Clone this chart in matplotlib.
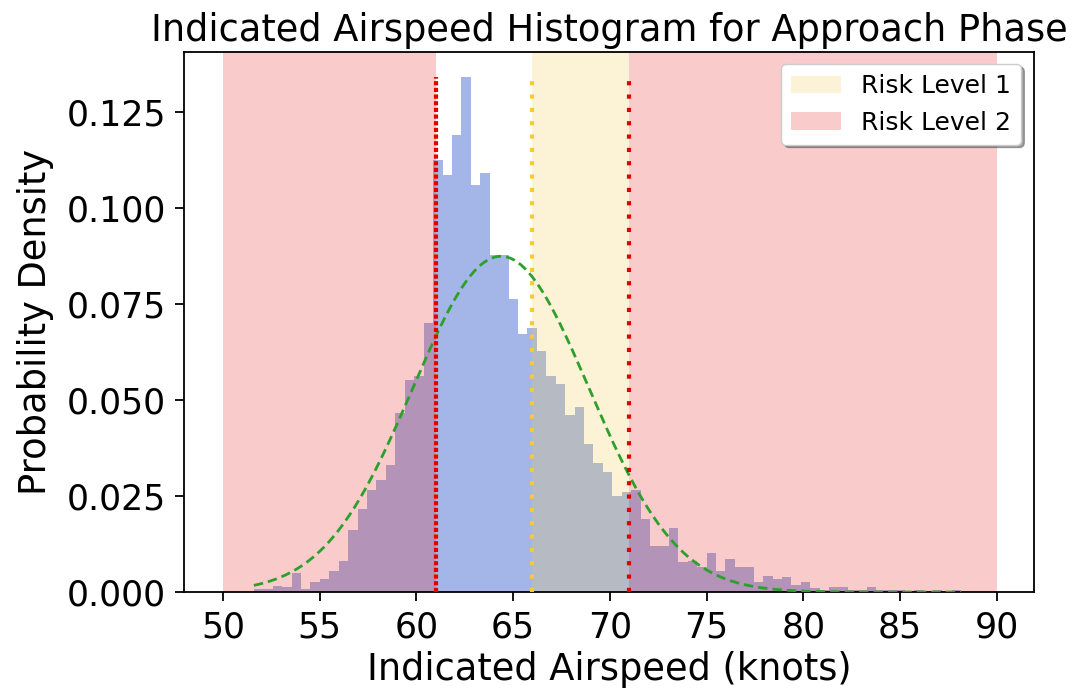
import numpy as np
import matplotlib
matplotlib.use("Agg")
import matplotlib.pyplot as plt

# ---- data ----
bin_start = 51.60
bin_width = 0.4876
densities = [
    0.0007, 0.0007, 0.0017, 0.0012, 0.0049, 0.0007, 0.0027, 0.0034, 0.0056, 0.0082,
    0.0162, 0.0217, 0.0265, 0.0292, 0.0331, 0.0466, 0.0552, 0.0564, 0.0700, 0.1127,
    0.1088, 0.1191, 0.1341, 0.1060, 0.1093, 0.0878, 0.0878, 0.0763, 0.0673, 0.0687,
    0.0628, 0.0564, 0.0541, 0.0462, 0.0482, 0.0385, 0.0336, 0.0314, 0.0250, 0.0260,
    0.0265, 0.0189, 0.0121, 0.0121, 0.0168, 0.0077, 0.0082, 0.0065, 0.0103, 0.0055,
    0.0087, 0.0066, 0.0066, 0.0027, 0.0043, 0.0034, 0.0039, 0.0018, 0.0027, 0.0011,
    0.0006, 0.0012, 0.0012, 0.0006, 0.0004, 0.0012, 0.0006, 0.0004, 0.0004, 0.0002,
    0.0004, 0.0002, 0.0004, 0.0002, 0.0004,
]
fit_mean = 64.37
fit_std = 4.56

risk1_span = (66, 71)
risk2_spans = [(50, 61), (71, 90)]
yellow_lines = [61, 66]
red_lines = [61, 71]

title = "Indicated Airspeed Histogram for Approach Phase"
xlabel = "Indicated Airspeed (knots)"
ylabel = "Probability Density"
xticks = [50, 55, 60, 65, 70, 75, 80, 85, 90]
yticks = [0.000, 0.025, 0.050, 0.075, 0.100, 0.125]

# ---- figure ----
fig = plt.figure(figsize=(10.8, 6.93), dpi=100)
ax = fig.add_axes([0.1706, 0.1457, 0.9574 - 0.1706, 0.9254 - 0.1457])

n = len(densities)
edges = bin_start + bin_width * np.arange(n + 1)
ax.bar(edges[:-1], densities, width=bin_width, align="edge",
       color="#4b6fd0", alpha=0.5, linewidth=0, zorder=1)

ax.axvspan(*risk1_span, color="#f2cc46", alpha=0.22, lw=0, label="Risk Level 1", zorder=2)
for i, (a, b) in enumerate(risk2_spans):
    ax.axvspan(a, b, color="#ea2020", alpha=0.23, lw=0,
               label="Risk Level 2" if i == 0 else None, zorder=2)

xs = np.linspace(edges[0], edges[-1], 400)
pdf = np.exp(-0.5 * ((xs - fit_mean) / fit_std) ** 2) / (fit_std * np.sqrt(2 * np.pi))
ax.plot(xs, pdf, color="#2ca02c", ls=(0, (3.4, 1.8)), lw=2.0, zorder=4)

ymax = max(densities)
ax.vlines(yellow_lines, 0, ymax, colors="#f5cc30", linestyles=[(0, (1, 2.2))], lw=3, zorder=5)
ax.vlines(red_lines, 0, ymax, colors="#e00000", linestyles=[(0, (1, 2.2))], lw=3, zorder=6)
ax.vlines([red_lines[0]], 0, ymax, colors="#e00000", linestyles=[(1.6, (1, 2.2))], lw=3, zorder=6)

ax.set_xlim(48, 91.93)
ax.set_ylim(0, 0.1408)
ax.set_xticks(xticks)
ax.set_yticks(yticks)
ax.set_yticklabels([f"{v:.3f}" for v in yticks])

ax.tick_params(labelsize=25, length=6.5, width=1.3, pad=6.5)
for s in ax.spines.values():
    s.set_linewidth(1.3)
ax.set_title(title, fontsize=26.5, pad=8)
ax.set_xlabel(xlabel, fontsize=26.5, labelpad=5)
ax.set_ylabel(ylabel, fontsize=26.5, labelpad=9)

leg = ax.legend(loc="upper right", fontsize=18, shadow=True, fancybox=True, framealpha=1)

fig.savefig("out.png", dpi=100)
